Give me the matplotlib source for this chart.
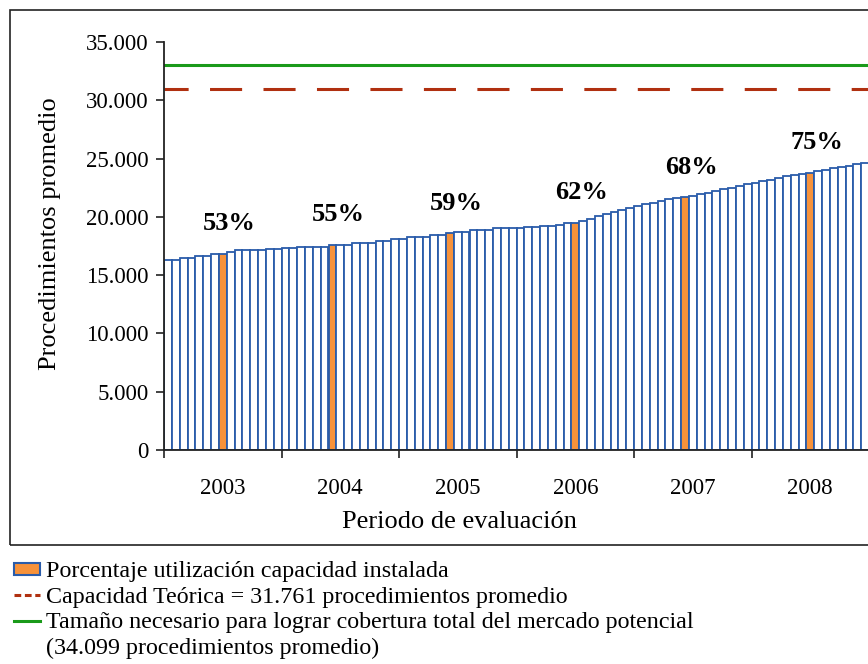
import matplotlib.pyplot as plt
from matplotlib.lines import Line2D
from matplotlib.patches import Patch, Rectangle
from matplotlib.ticker import FuncFormatter

# Valores: 15 barras por año, 2003-2008 (6 años visibles).
YEARS = ["2003", "2004", "2005", "2006", "2007", "2008"]
BARS_PER_YEAR = 15

PROCEDIMIENTOS = [
    16.30, 16.30, 16.44, 16.44, 16.62, 16.62, 16.80, 16.83, 16.95, 17.13,
    17.13, 17.15, 17.16, 17.27, 17.27, 17.30, 17.30, 17.44, 17.44, 17.44,
    17.44, 17.60, 17.61, 17.61, 17.78, 17.78, 17.78, 17.96, 17.96, 18.13,
    18.13, 18.30, 18.30, 18.30, 18.47, 18.47, 18.60, 18.67, 18.67, 18.87,
    18.87, 18.87, 19.04, 19.04, 19.04, 19.04, 19.10, 19.10, 19.22, 19.22,
    19.30, 19.45, 19.50, 19.65, 19.85, 20.05, 20.22, 20.39, 20.58, 20.76,
    20.94, 21.08, 21.22, 21.36, 21.50, 21.60, 21.68, 21.82, 21.95, 22.08,
    22.22, 22.36, 22.50, 22.64, 22.78, 22.92, 23.06, 23.20, 23.35, 23.50,
    23.62, 23.70, 23.80, 23.93, 24.06, 24.16, 24.30, 24.40, 24.50, 24.65,
]
PROCEDIMIENTOS = [v * 1000 for v in PROCEDIMIENTOS]

# Barras destacadas (naranja) con su porcentaje de utilización.
DESTACADAS = [7, 21, 36, 52, 66, 82]
PORCENTAJES = [53, 55, 59, 62, 68, 75]

CAPACIDAD_TEORICA = 31000
TAMANO_NECESARIO = 33000

AZUL = "#2a5caa"
NARANJA = "#f7923a"
ROJO = "#b03010"
VERDE = "#1a9a1a"

plt.rcParams.update({
    "font.family": ["Liberation Serif", "DejaVu Serif"],
    "font.size": 16.5,
})


def miles(v, _pos):
    return f"{int(v):,}".replace(",", ".")


def main() -> None:
    fig = plt.figure(figsize=(8.68, 6.64), dpi=100)
    W, H = 868, 664
    ax = fig.add_axes([164 / W, 1 - 450 / H, 705 / W, 408 / H])

    # Marco del gráfico (cortado por la derecha, como en el original).
    fig.patches.append(Rectangle(
        (10 / W, 1 - 545 / H), 2.0, 535 / H, transform=fig.transFigure,
        fill=False, edgecolor="#222222", linewidth=1.2,
    ))

    n = len(PROCEDIMIENTOS)
    x = list(range(n))
    colores = ["white"] * n
    for i in DESTACADAS:
        colores[i] = NARANJA
    ax.bar(x, PROCEDIMIENTOS, width=1.0, color=colores,
           edgecolor=AZUL, linewidth=1.3, zorder=2)

    ax.axhline(TAMANO_NECESARIO, color=VERDE, linewidth=2.2, zorder=3)
    ax.axhline(CAPACIDAD_TEORICA, color=ROJO, linewidth=2.2, zorder=3,
               linestyle=(2.6, (10.5, 7)))

    for i, p in zip(DESTACADAS, PORCENTAJES):
        ax.annotate(f"{p}%", (i, PROCEDIMIENTOS[i]), xytext=(4.5, 21.5),
                    textcoords="offset points", ha="center", va="center",
                    fontsize=19, fontweight="bold")

    ax.set_xlim(-0.5, n - 0.5)
    ax.set_ylim(0, 35000)
    ax.set_yticks(range(0, 35001, 5000))
    ax.yaxis.set_major_formatter(FuncFormatter(miles))

    ax.set_xticks([k * BARS_PER_YEAR - 0.5 for k in range(len(YEARS) + 1)])
    ax.set_xticklabels([])
    ax.set_xticks([k * BARS_PER_YEAR + 7 for k in range(len(YEARS))],
                  minor=True)
    ax.set_xticklabels(YEARS, minor=True)
    ax.tick_params(axis="x", which="minor", length=0, pad=20)
    ax.tick_params(axis="both", which="major", length=6, width=1.2,
                   color="#222222")
    ax.tick_params(axis="y", pad=5)

    for side in ("top", "right"):
        ax.spines[side].set_visible(False)
    for side in ("left", "bottom"):
        ax.spines[side].set_linewidth(1.3)
        ax.spines[side].set_color("#222222")
        ax.spines[side].set_zorder(4)

    fig.text(50 / W, 1 - 234 / H, "Procedimientos promedio", rotation=90,
             ha="center", va="center", fontsize=19)
    fig.text(459 / W, 1 - 522 / H, "Periodo de evaluación",
             ha="center", va="center", fontsize=19)

    # La última fila es la continuación del texto de la línea verde.
    handles = [
        Patch(facecolor=NARANJA, edgecolor=AZUL, linewidth=1.5),
        Line2D([], [], color=ROJO, linewidth=2.2, linestyle=(0, (2.2, 1.2))),
        Line2D([], [], color=VERDE, linewidth=2.2),
        Line2D([], [], color="none"),
    ]
    labels = [
        "Porcentaje utilización capacidad instalada",
        "Capacidad Teórica = 31.761 procedimientos promedio",
        "Tamaño necesario para lograr cobertura total del mercado potencial",
        "(34.099 procedimientos promedio)",
    ]
    fig.legend(handles, labels, loc="upper left",
               bbox_to_anchor=(0.0, 1 - 547 / H), frameon=False,
               fontsize=17.3, handlelength=1.05, handleheight=0.4,
               handletextpad=0.25, labelspacing=0.18, borderaxespad=0.2)

    fig.savefig("out.png", dpi=100)


if __name__ == "__main__":
    main()
